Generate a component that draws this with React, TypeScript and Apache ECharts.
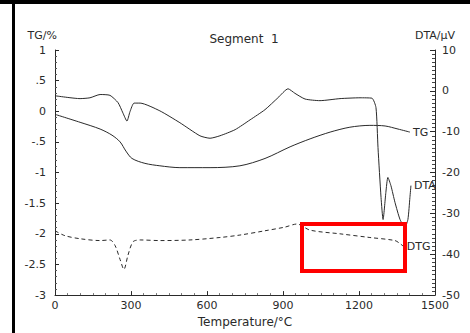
import React, { useEffect, useRef } from "react";
import * as echarts from "echarts";

// Temperature (°C) and values
const tgTemp = [0, 99, 178, 225, 257, 280, 304, 355, 414, 493, 612, 730, 829, 928, 1007, 1086, 1164, 1243, 1303, 1354, 1401];
const tgValue = [-0.05, -0.18, -0.29, -0.39, -0.5, -0.65, -0.77, -0.85, -0.89, -0.92, -0.92, -0.89, -0.77, -0.58, -0.45, -0.34, -0.26, -0.23, -0.24, -0.29, -0.34];

const dtaTemp = [0, 99, 138, 178, 217, 249, 268, 284, 296, 312, 336, 414, 493, 572, 612, 651, 711, 770, 829, 880, 920, 947, 987, 1046, 1125, 1204, 1251, 1267, 1275, 1287, 1295, 1306, 1314, 1326, 1342, 1362, 1381, 1393, 1401, 1405];
const dtaValue = [-1.2, -1.9, -1.7, -0.9, -1.1, -2.9, -5.4, -7.4, -5.1, -3.0, -3.0, -4.9, -7.8, -11.0, -11.6, -11.0, -9.5, -7.1, -4.6, -1.7, 0.5, -0.6, -2.0, -2.4, -1.9, -1.7, -1.8, -4.1, -13.9, -26.1, -31.5, -24.9, -21.2, -23.2, -27.3, -31.5, -33.4, -31.5, -26.1, -23.2];

const dtgTemp = [0, 39, 99, 178, 217, 237, 257, 272, 288, 308, 336, 414, 533, 651, 730, 829, 908, 955, 1007, 1125, 1243, 1342, 1362, 1377];
const dtgValue = [-1.95, -2.03, -2.08, -2.11, -2.1, -2.19, -2.42, -2.58, -2.35, -2.13, -2.1, -2.11, -2.1, -2.06, -2.02, -1.95, -1.89, -1.84, -1.94, -2.0, -2.06, -2.11, -2.16, -2.21];

const xTicks = ["0", "300", "600", "900", "1200", "1500"];
const leftTicks = ["-3", "-2.5", "-2", "-1.5", "-1", "-.5", "0", ".5", "1"];
const rightTicks = ["-50", "-40", "-30", "-20", "-10", "0", "10"];

const INK = "#2a2a2a";
const FONT = "DejaVu Sans";

export default function App() {
  const ref = useRef<HTMLDivElement>(null);
  useEffect(() => {
    if (!ref.current) return;
    const chart = echarts.init(ref.current, undefined, { renderer: "svg" });
    const pair = (t: number[], v: number[]) => t.map((x, i) => [x, v[i]]);
    const endLabel = (name: string) => ({
      show: true,
      formatter: name,
      color: INK,
      fontSize: 11,
      fontFamily: FONT,
      distance: 3,
    });
    chart.setOption({
      animation: false,
      backgroundColor: "#fff",
      grid: { left: 55, right: 35, top: 50, bottom: 35 },
      graphic: [
        { type: "rect", shape: { x: 0, y: 0, width: 470, height: 4 }, style: { fill: "#000" } },
        { type: "rect", shape: { x: 12, y: 0, width: 3, height: 333 }, style: { fill: "#000" } },
        {
          type: "text",
          x: 244,
          y: 39,
          style: { text: "Segment  1", fill: INK, fontSize: 12, fontFamily: FONT, textAlign: "center", textVerticalAlign: "middle" },
        },
        {
          type: "rect",
          shape: { x: 302, y: 224, width: 103, height: 47 },
          style: { fill: "none", stroke: "#ff0000", lineWidth: 4 },
          z: 100,
        },
      ],
      xAxis: {
        type: "value",
        min: 0,
        max: 1500,
        interval: 300,
        name: "Temperature/°C",
        nameLocation: "middle",
        nameGap: 16,
        nameTextStyle: { color: INK, fontSize: 12, fontFamily: FONT },
        axisLine: { onZero: false, lineStyle: { color: INK, width: 1 } },
        axisTick: { inside: true, length: 4, lineStyle: { color: INK } },
        minorTick: { show: true, splitNumber: 6, length: 2, lineStyle: { color: "#777" } },
        splitLine: { show: false },
        axisLabel: {
          margin: 5,
          color: INK,
          fontSize: 11,
          fontFamily: FONT,
          formatter: (v: number) => xTicks[Math.round(v / 300)] ?? "",
        },
      },
      yAxis: [
        {
          type: "value",
          min: -3,
          max: 1,
          interval: 0.5,
          position: "left",
          name: "TG/%",
          nameLocation: "end",
          nameGap: 9,
          nameTextStyle: { color: INK, fontSize: 11, fontFamily: FONT, align: "right", padding: [0, -2, 0, 0] },
          axisLine: { show: true, onZero: false, lineStyle: { color: INK, width: 1 } },
          axisTick: { inside: true, length: 4, lineStyle: { color: INK } },
          minorTick: { show: true, splitNumber: 5, length: 2, lineStyle: { color: "#555" } },
          splitLine: { show: false },
          axisLabel: {
            margin: 9,
            color: INK,
            fontSize: 11,
            fontFamily: FONT,
            formatter: (v: number) => leftTicks[Math.round((v + 3) / 0.5)] ?? "",
          },
        },
        {
          type: "value",
          min: -50,
          max: 10,
          interval: 10,
          position: "right",
          name: "DTA/μV",
          nameLocation: "end",
          nameGap: 9,
          nameTextStyle: { color: INK, fontSize: 11, fontFamily: FONT, align: "center" },
          axisLine: { show: true, onZero: false, lineStyle: { color: INK, width: 1 } },
          axisTick: { inside: true, length: 5, lineStyle: { color: INK } },
          minorTick: { show: true, splitNumber: 10, length: 3, lineStyle: { color: "#444" } },
          splitLine: { show: false },
          axisLabel: {
            margin: 7,
            color: INK,
            fontSize: 11,
            fontFamily: FONT,
            formatter: (v: number) => rightTicks[Math.round((v + 50) / 10)] ?? "",
          },
        },
      ],
      series: [
        {
          name: "TG",
          type: "line",
          yAxisIndex: 0,
          data: pair(tgTemp, tgValue),
          smooth: 0.3,
          showSymbol: false,
          lineStyle: { color: INK, width: 1 },
          endLabel: endLabel("TG"),
        },
        {
          name: "DTA",
          type: "line",
          yAxisIndex: 1,
          data: pair(dtaTemp, dtaValue),
          smooth: 0.2,
          showSymbol: false,
          lineStyle: { color: INK, width: 1 },
          endLabel: endLabel("DTA"),
        },
        {
          name: "DTG",
          type: "line",
          yAxisIndex: 0,
          data: pair(dtgTemp, dtgValue),
          smooth: 0.3,
          showSymbol: false,
          lineStyle: { color: INK, width: 1, type: [4, 3] },
          endLabel: endLabel("DTG"),
        },
      ],
    });
    return () => chart.dispose();
  }, []);
  return (
    <div
      ref={ref}
      style={{ position: "fixed", left: 0, top: 0, width: 470, height: 333, background: "#fff" }}
    />
  );
}
